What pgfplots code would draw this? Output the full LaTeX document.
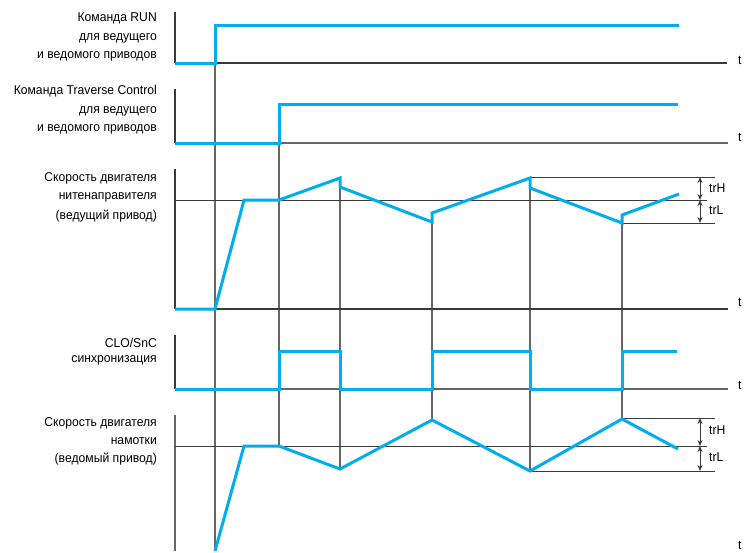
\documentclass[border=0pt]{standalone}
\usepackage{pgfplots}
\pgfplotsset{compat=1.18}
\usepackage{fontspec}
\setmainfont[FakeStretch=0.95]{Liberation Sans}
\usetikzlibrary{arrows.meta}
\definecolor{sig}{HTML}{00AEEF}
\definecolor{vg}{HTML}{666666}
\definecolor{ax}{HTML}{3A3A3A}
\newcommand\F{\fontsize{12.8}{14}\selectfont}
\begin{document}
\begin{tikzpicture}
\begin{axis}[
  scale only axis, width=746pt, height=551pt,
  xmin=0, xmax=746, ymin=0, ymax=551, y dir=reverse,
  hide axis, clip=false,
]
% invisible frame to fix the bounding box
\addplot[draw=none] coordinates {(0,0) (746,551)};
% gray vertical lines
\addplot[vg, line width=1.5pt] coordinates {(215,25) (215,551)};
\addplot[vg, line width=1.5pt] coordinates {(279,103) (279,446)};
\addplot[vg, line width=1.5pt] coordinates {(340,178) (340,469)};
\addplot[vg, line width=1.5pt] coordinates {(432,213) (432,420)};
\addplot[vg, line width=1.5pt] coordinates {(530,178) (530,471)};
\addplot[vg, line width=1.5pt] coordinates {(622,215) (622,419)};
% left axes
\addplot[ax, line width=1.1pt] coordinates {(175,12) (175,63)};
\addplot[ax, line width=1.1pt] coordinates {(175,89) (175,143)};
\addplot[ax, line width=1.1pt] coordinates {(175,169) (175,309)};
\addplot[ax, line width=1.1pt] coordinates {(175,335) (175,389)};
\addplot[vg, line width=1.5pt] coordinates {(175,415) (175,551)};
% baselines
\addplot[ax, line width=1.1pt] coordinates {(175,63) (727,63)};
\addplot[vg, line width=1.3pt] coordinates {(175,143) (728,143)};
\addplot[ax, line width=1.1pt] coordinates {(175,309) (728,309)};
\addplot[vg, line width=1.3pt] coordinates {(175,389) (728,389)};
% reference lines panel 3
\addplot[ax, line width=1pt] coordinates {(175,200) (707,200)};
\addplot[ax, line width=1pt] coordinates {(530,177) (715,177)};
\addplot[ax, line width=1pt] coordinates {(622,223) (715,223)};
% reference lines panel 5
\addplot[ax, line width=1pt] coordinates {(175,446) (707,446)};
\addplot[ax, line width=1pt] coordinates {(622,418) (715,418)};
\addplot[ax, line width=1pt] coordinates {(530,471) (715,471)};
% trH / trL arrows
\addplot[ax, line width=1pt, {Stealth[length=6pt,width=5pt]}-{Stealth[length=6pt,width=5pt]}] coordinates {(700,177) (700,200)};
\addplot[ax, line width=1pt, {Stealth[length=6pt,width=5pt]}-{Stealth[length=6pt,width=5pt]}] coordinates {(700,200) (700,223)};
\addplot[ax, line width=1pt, {Stealth[length=6pt,width=5pt]}-{Stealth[length=6pt,width=5pt]}] coordinates {(700,418) (700,446)};
\addplot[ax, line width=1pt, {Stealth[length=6pt,width=5pt]}-{Stealth[length=6pt,width=5pt]}] coordinates {(700,446) (700,471)};
% signals
\addplot[sig, line width=3pt] coordinates {(175,63) (215,63) (215,25) (679,25)};
\addplot[sig, line width=3pt] coordinates {(175,143) (279,143) (279,104) (678,104)};
\addplot[sig, line width=3pt] coordinates {(175,309) (215,309) (244,200) (279,200) (340,178) (340,187) (432,222) (432,213) (530,178) (530,188) (622,223) (622,215) (679,194)};
\addplot[sig, line width=3pt] coordinates {(175,389) (279,389) (279,351) (340,351) (340,389) (432,389) (432,351) (530,351) (530,389) (622,389) (622,351) (677,351)};
\addplot[sig, line width=3pt] coordinates {(215,551) (244,446) (279,446) (340,469) (432,420) (530,471) (622,419) (678,449)};
% labels
\node[anchor=east, inner sep=0pt] at (axis cs:157,18) {\F Команда RUN};
\node[anchor=east, inner sep=0pt] at (axis cs:157,38) {\F для ведущего};
\node[anchor=east, inner sep=0pt] at (axis cs:157,56) {\F и ведомого приводов};
\node[anchor=east, inner sep=0pt] at (axis cs:157,91) {\F Команда Traverse Control};
\node[anchor=east, inner sep=0pt] at (axis cs:157,111) {\F для ведущего};
\node[anchor=east, inner sep=0pt] at (axis cs:157,129) {\F и ведомого приводов};
\node[anchor=east, inner sep=0pt] at (axis cs:157,178) {\F Скорость двигателя};
\node[anchor=east, inner sep=0pt] at (axis cs:157,197) {\F нитенаправителя};
\node[anchor=east, inner sep=0pt] at (axis cs:157,216) {\F (ведущий привод)};
\node[anchor=east, inner sep=0pt] at (axis cs:157,343) {\F CLO/SnC};
\node[anchor=east, inner sep=0pt] at (axis cs:157,360) {\F синхронизация};
\node[anchor=east, inner sep=0pt] at (axis cs:157,423) {\F Скорость двигателя};
\node[anchor=east, inner sep=0pt] at (axis cs:157,441) {\F намотки};
\node[anchor=east, inner sep=0pt] at (axis cs:157,459) {\F (ведомый привод)};
\node[anchor=west, inner sep=0pt] at (axis cs:709,188) {\F trH};
\node[anchor=west, inner sep=0pt] at (axis cs:709,210) {\F trL};
\node[anchor=west, inner sep=0pt] at (axis cs:709,430) {\F trH};
\node[anchor=west, inner sep=0pt] at (axis cs:709,457) {\F trL};
\node[anchor=west, inner sep=0pt] at (axis cs:738,60) {\F t};
\node[anchor=west, inner sep=0pt] at (axis cs:738,137) {\F t};
\node[anchor=west, inner sep=0pt] at (axis cs:738,302) {\F t};
\node[anchor=west, inner sep=0pt] at (axis cs:738,385) {\F t};
\node[anchor=west, inner sep=0pt] at (axis cs:738,545) {\F t};
\end{axis}
\end{tikzpicture}
\end{document}
